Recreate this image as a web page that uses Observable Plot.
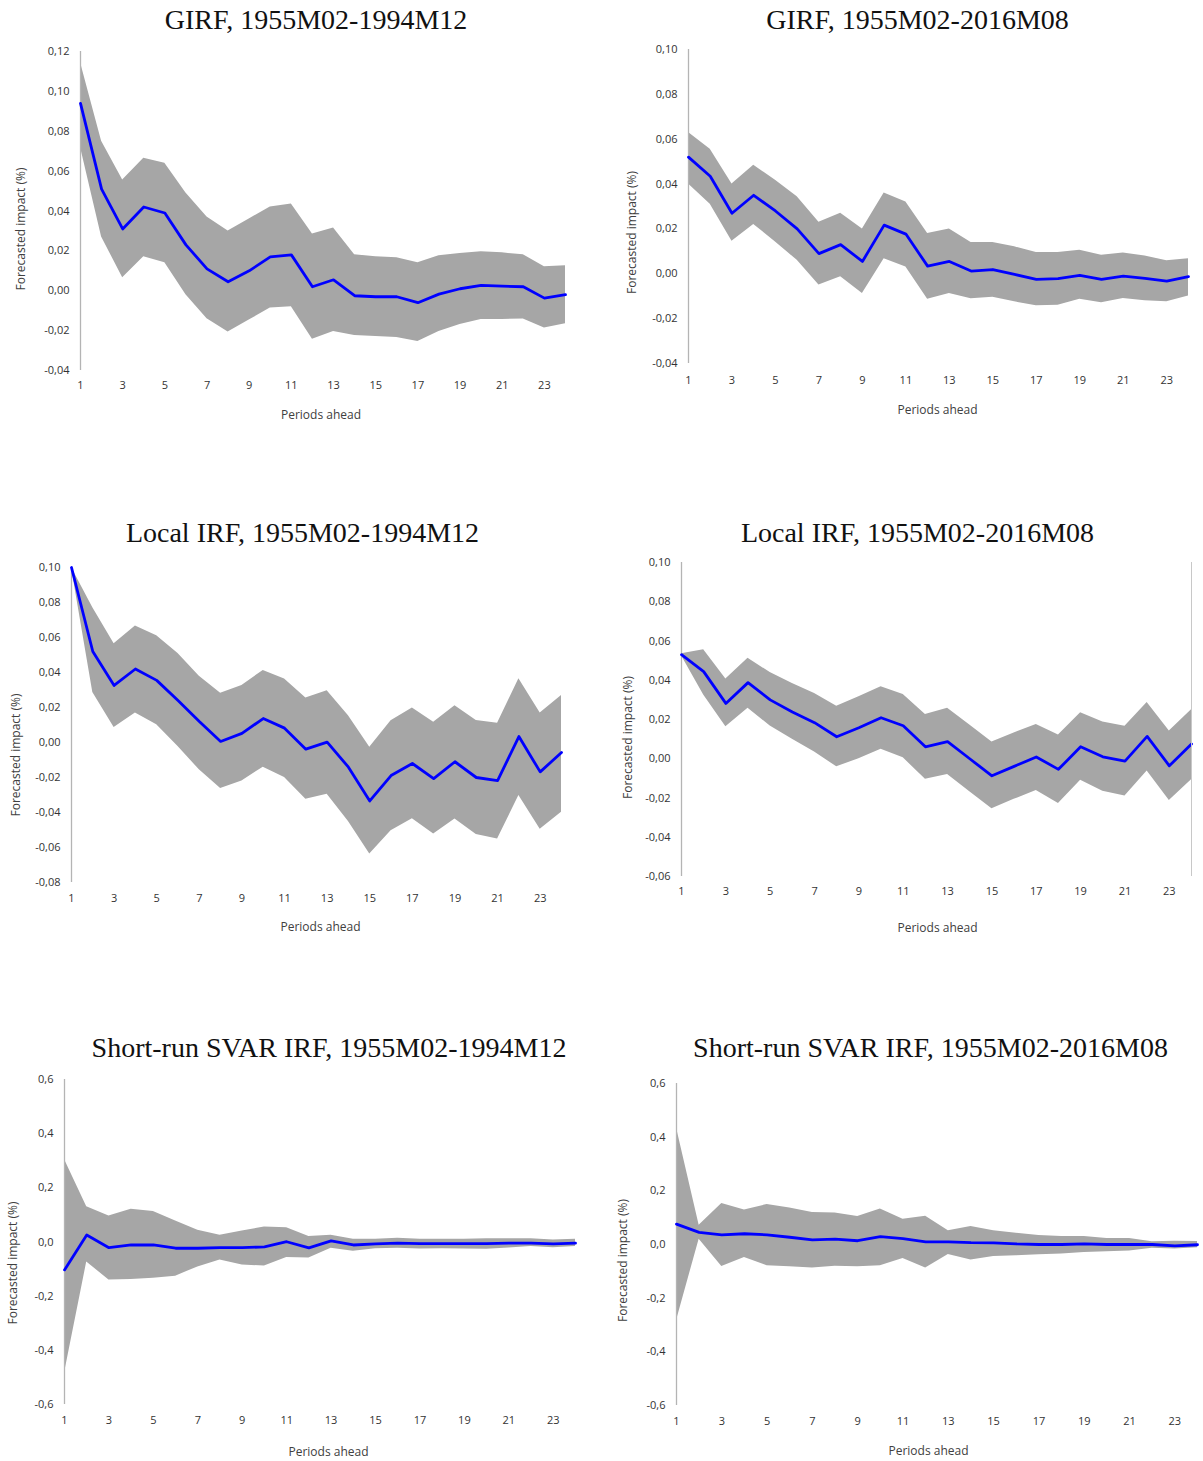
<!DOCTYPE html>
<html>
<head>
<meta charset="utf-8">
<script src="https://cdn.jsdelivr.net/npm/d3@7"></script>
<script src="https://cdn.jsdelivr.net/npm/@observablehq/plot@0.6"></script>
<style>
  html, body { margin: 0; padding: 0; background: #ffffff; }
  #page { position: relative; width: 1203px; height: 1461px; background: #ffffff; overflow: hidden; }
  .title { position: absolute; width: 640px; text-align: center; font-family: "Liberation Serif", "DejaVu Serif", serif; font-size: 28px; line-height: 30px; color: #111; white-space: nowrap; }
  .panel { position: absolute; }
</style>
</head>
<body>
<div id="page"></div>
<script>
// ---------- data ----------
const periods = [1,2,3,4,5,6,7,8,9,10,11,12,13,14,15,16,17,18,19,20,21,22,23,24];
const xTicks = [1,3,5,7,9,11,13,15,17,19,21,23];

const titles = [
  "GIRF, 1955M02-1994M12",
  "GIRF, 1955M02-2016M08",
  "Local IRF, 1955M02-1994M12",
  "Local IRF, 1955M02-2016M08",
  "Short-run SVAR IRF, 1955M02-1994M12",
  "Short-run SVAR IRF, 1955M02-2016M08"
];
const xLabel = "Periods ahead";
const yLabel = "Forecasted impact (%)";

const yTicksGirfA = [-0.04,-0.02,0,0.02,0.04,0.06,0.08,0.10,0.12];
const yTicksGirfB = [-0.04,-0.02,0,0.02,0.04,0.06,0.08,0.10];
const yTicksLocalA = [-0.08,-0.06,-0.04,-0.02,0,0.02,0.04,0.06,0.08,0.10];
const yTicksLocalB = [-0.06,-0.04,-0.02,0,0.02,0.04,0.06,0.08,0.10];
const yTicksSvar = [-0.6,-0.4,-0.2,0,0.2,0.4,0.6];

// GIRF 1955M02-1994M12
const girfAIrf   = [0.094,0.051,0.031,0.042,0.039,0.023,0.011,0.0045,0.010,0.017,0.018,0.002,0.0055,-0.0025,-0.003,-0.003,-0.006,-0.0017,0.001,0.0027,0.0023,0.002,-0.0037,-0.002];
const girfAUpper = [0.1145,0.075,0.0555,0.0665,0.064,0.049,0.037,0.030,0.036,0.042,0.0435,0.0285,0.0315,0.018,0.017,0.0165,0.014,0.0175,0.0187,0.0196,0.019,0.018,0.012,0.0125];
const girfALower = [0.072,0.027,0.0065,0.017,0.014,-0.002,-0.014,-0.0207,-0.0147,-0.0087,-0.008,-0.0243,-0.0205,-0.0224,-0.023,-0.0234,-0.0254,-0.0204,-0.0169,-0.0144,-0.0144,-0.0142,-0.0187,-0.0166];

// GIRF 1955M02-2016M08
const girfBIrf   = [0.052,0.0435,0.027,0.035,0.028,0.020,0.009,0.013,0.0055,0.0217,0.0177,0.0034,0.0055,0.0012,0.0019,-0.0003,-0.0025,-0.0022,-0.0007,-0.0025,-0.001,-0.002,-0.0033,-0.0013];
const girfBUpper = [0.063,0.0555,0.040,0.0484,0.0417,0.0343,0.023,0.027,0.020,0.036,0.032,0.018,0.020,0.014,0.014,0.012,0.0095,0.0095,0.0105,0.0083,0.0093,0.0079,0.0058,0.0067];
const girfBLower = [0.040,0.031,0.0145,0.022,0.0142,0.006,-0.005,-0.0013,-0.0088,0.0067,0.003,-0.0113,-0.0088,-0.0111,-0.0105,-0.0125,-0.0142,-0.014,-0.0114,-0.0129,-0.011,-0.012,-0.0125,-0.0099];

// Local IRF 1955M02-1994M12
const localAIrf   = [0.100,0.052,0.0326,0.042,0.0355,0.024,0.012,0.0006,0.0052,0.0137,0.0082,-0.0038,0.0002,-0.0141,-0.0334,-0.0189,-0.012,-0.0206,-0.011,-0.020,-0.0218,0.0034,-0.0168,-0.0057];
const localAUpper = [0.100,0.077,0.0565,0.0666,0.061,0.0508,0.0378,0.0282,0.0326,0.0412,0.0363,0.0254,0.0296,0.0153,-0.0027,0.0124,0.0197,0.0116,0.021,0.0126,0.011,0.0365,0.0168,0.0269];
const localALower = [0.100,0.0286,0.0086,0.0168,0.0101,-0.0023,-0.0156,-0.0263,-0.022,-0.0141,-0.020,-0.0324,-0.0296,-0.0452,-0.0637,-0.0504,-0.0435,-0.0523,-0.0437,-0.0525,-0.0552,-0.0303,-0.0496,-0.0399];

// Local IRF 1955M02-2016M08
const localBIrf   = [0.053,0.0444,0.0282,0.0388,0.030,0.0238,0.0184,0.0112,0.0158,0.0209,0.0168,0.0061,0.0087,0.0,-0.0087,-0.0039,0.0009,-0.0054,0.0061,0.001,-0.0012,0.0114,-0.0036,0.0075];
const localBUpper = [0.0535,0.0556,0.0406,0.0512,0.0439,0.0383,0.0332,0.0267,0.0316,0.0367,0.0328,0.0226,0.0257,0.0172,0.0085,0.0131,0.0175,0.0121,0.0235,0.0187,0.0165,0.0286,0.0141,0.025];
const localBLower = [0.0525,0.0325,0.0163,0.0257,0.0167,0.0099,0.0034,-0.0041,0.0,0.0049,0.0005,-0.0105,-0.008,-0.0168,-0.0255,-0.0207,-0.0162,-0.0228,-0.011,-0.0165,-0.019,-0.0063,-0.0213,-0.0107];

// Short-run SVAR IRF 1955M02-1994M12
const svarAIrf   = [-0.103,0.026,-0.021,-0.011,-0.011,-0.023,-0.023,-0.021,-0.021,-0.018,0.001,-0.022,0.004,-0.011,-0.007,-0.004,-0.006,-0.006,-0.006,-0.006,-0.004,-0.004,-0.007,-0.004];
const svarAUpper = [0.305,0.130,0.096,0.121,0.113,0.078,0.043,0.025,0.041,0.055,0.053,0.020,0.025,0.010,0.010,0.014,0.010,0.010,0.010,0.012,0.012,0.012,0.007,0.010];
const svarALower = [-0.485,-0.074,-0.140,-0.138,-0.134,-0.126,-0.092,-0.066,-0.085,-0.089,-0.057,-0.059,-0.023,-0.034,-0.025,-0.023,-0.026,-0.025,-0.026,-0.027,-0.022,-0.017,-0.021,-0.017];

// Short-run SVAR IRF 1955M02-2016M08
const svarBIrf   = [0.076,0.045,0.036,0.040,0.036,0.027,0.017,0.020,0.014,0.029,0.022,0.010,0.010,0.007,0.006,0.002,0.0,0.0,0.002,0.0,0.0,0.0,-0.005,-0.001];
const svarBUpper = [0.435,0.072,0.153,0.129,0.149,0.136,0.119,0.117,0.104,0.132,0.094,0.105,0.051,0.067,0.051,0.042,0.034,0.030,0.030,0.022,0.022,0.010,0.012,0.011];
const svarBLower = [-0.284,0.020,-0.082,-0.048,-0.079,-0.083,-0.088,-0.081,-0.083,-0.079,-0.052,-0.088,-0.037,-0.058,-0.045,-0.042,-0.038,-0.035,-0.030,-0.027,-0.024,-0.014,-0.017,-0.012];

// ---------- layout (page positions) ----------
const panels = [
  {title: titles[0], irf: girfAIrf, upper: girfAUpper, lower: girfALower, yDomain: [-0.04, 0.12], yTicks: yTicksGirfA, dec: 2,
   left: 0, top: 40, width: 600, height: 390, mL: 80, mR: 35, mT: 11, mB: 60,
   tickPad: 11, xlDy: 45, xlDx: -2, ylDx: -59, ylDy: 18, titleX: 316, titleY: 20, rightRule: false},
  {title: titles[1], irf: girfBIrf, upper: girfBUpper, lower: girfBLower, yDomain: [-0.04, 0.10], yTicks: yTicksGirfB, dec: 2,
   left: 600, top: 40, width: 603, height: 383, mL: 88, mR: 15, mT: 9, mB: 60,
   tickPad: 13, xlDy: 47, xlDx: -1, ylDx: -56, ylDy: 26, titleX: 917.5, titleY: 20, rightRule: false},
  {title: titles[2], irf: localAIrf, upper: localAUpper, lower: localALower, yDomain: [-0.08, 0.10], yTicks: yTicksLocalA, dec: 2,
   left: 0, top: 550, width: 600, height: 392, mL: 71, mR: 39, mT: 17, mB: 60,
   tickPad: 12, xlDy: 45, xlDx: 4, ylDx: -55, ylDy: 30, titleX: 302.5, titleY: 533, rightRule: false},
  {title: titles[3], irf: localBIrf, upper: localBUpper, lower: localBLower, yDomain: [-0.06, 0.10], yTicks: yTicksLocalB, dec: 2,
   left: 600, top: 550, width: 603, height: 386, mL: 81, mR: 12, mT: 12, mB: 60,
   tickPad: 11, xlDy: 52, xlDx: 1, ylDx: -53, ylDy: 18, titleX: 917.5, titleY: 533, rightRule: true},
  {title: titles[4], irf: svarAIrf, upper: svarAUpper, lower: svarALower, yDomain: [-0.6, 0.6], yTicks: yTicksSvar, dec: 1,
   left: 0, top: 1065, width: 600, height: 396, mL: 64, mR: 25, mT: 14, mB: 57,
   tickPad: 12, xlDy: 48, xlDx: 8.5, ylDx: -51, ylDy: 21, titleX: 329, titleY: 1048, rightRule: false},
  {title: titles[5], irf: svarBIrf, upper: svarBUpper, lower: svarBLower, yDomain: [-0.6, 0.6], yTicks: yTicksSvar, dec: 1,
   left: 600, top: 1065, width: 603, height: 396, mL: 76, mR: 6, mT: 18, mB: 56,
   tickPad: 12, xlDy: 46, xlDx: -8.5, ylDx: -53, ylDy: 16, titleX: 930.5, titleY: 1048, rightRule: false}
];

const page = document.getElementById("page");

for (const p of panels) {
  const rows = periods.map((t, i) => ({period: t, irf: p.irf[i], upper: p.upper[i], lower: p.lower[i]}));
  const fmt = d => d.toFixed(p.dec).replace(".", ",");

  const marks = [
    Plot.areaY(rows, {x: "period", y1: "lower", y2: "upper", fill: "#a6a6a6", curve: "linear"}),
    Plot.ruleX([1], {stroke: "#b4b4b4", strokeWidth: 1.3}),
    Plot.lineY(rows, {x: "period", y: "irf", stroke: "#0000ff", strokeWidth: 2.8}),
    Plot.text([xLabel], {text: d => d, frameAnchor: "bottom", textAnchor: "middle", lineAnchor: "middle", dy: p.xlDy, dx: p.xlDx, fontSize: 12, fill: "#404040"}),
    Plot.text([yLabel], {text: d => d, frameAnchor: "left", textAnchor: "middle", lineAnchor: "middle", rotate: -90, dx: p.ylDx, dy: p.ylDy, fontSize: 12, fill: "#404040"})
  ];
  if (p.rightRule) marks.push(Plot.ruleX([24], {stroke: "#c8c8c8", strokeWidth: 1}));

  const chart = Plot.plot({
    width: p.width,
    height: p.height,
    marginLeft: p.mL,
    marginRight: p.mR,
    marginTop: p.mT,
    marginBottom: p.mB,
    style: {fontFamily: "'Open Sans', sans-serif", fontSize: "11px", color: "#333", background: "transparent", overflow: "visible"},
    x: {domain: [1, 24], ticks: xTicks, tickSize: 0, tickPadding: p.tickPad, tickFormat: d => String(d), label: null},
    y: {domain: p.yDomain, ticks: p.yTicks, tickSize: 0, tickPadding: 11, tickFormat: fmt, label: null},
    marks
  });

  const holder = document.createElement("div");
  holder.className = "panel";
  holder.style.left = p.left + "px";
  holder.style.top = p.top + "px";
  holder.appendChild(chart);
  page.appendChild(holder);

  const t = document.createElement("div");
  t.className = "title";
  t.textContent = p.title;
  t.style.left = (p.titleX - 320) + "px";
  t.style.top = (p.titleY - 15) + "px";
  page.appendChild(t);
}
</script>
</body>
</html>
